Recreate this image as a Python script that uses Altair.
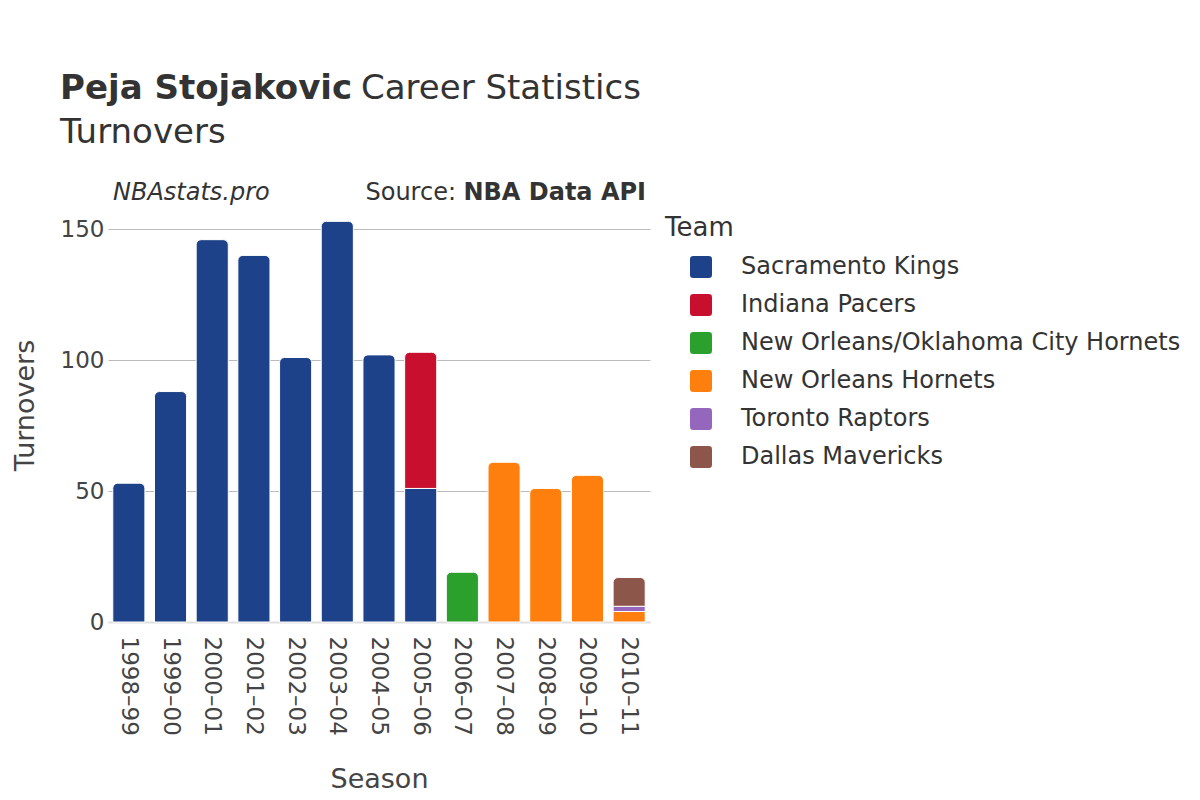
import altair as alt
import pandas as pd

seasons = ["1998–99", "1999–00", "2000–01", "2001–02", "2002–03", "2003–04",
           "2004–05", "2005–06", "2006–07", "2007–08", "2008–09", "2009–10", "2010–11"]
teams = ["Sacramento Kings", "Indiana Pacers", "New Orleans/Oklahoma City Hornets",
         "New Orleans Hornets", "Toronto Raptors", "Dallas Mavericks"]
team_colors = ["#1d428a", "#c8102e", "#2ca02c", "#ff7f0e", "#9467bd", "#8c564b"]

seg_season = ["1998–99", "1999–00", "2000–01", "2001–02", "2002–03", "2003–04",
              "2004–05", "2005–06", "2005–06", "2006–07", "2007–08", "2008–09",
              "2009–10", "2010–11", "2010–11", "2010–11"]
seg_team = ["Sacramento Kings"] * 8 + ["Indiana Pacers", "New Orleans/Oklahoma City Hornets",
            "New Orleans Hornets", "New Orleans Hornets", "New Orleans Hornets",
            "New Orleans Hornets", "Toronto Raptors", "Dallas Mavericks"]
seg_value = [53, 88, 146, 140, 101, 153, 102, 51, 52, 19, 61, 51, 56, 4, 2, 11]

df = pd.DataFrame({
    "season": seg_season,
    "team": seg_team,
    "value": seg_value,
    "order": [teams.index(t) for t in seg_team],
})

FONT = "DejaVu Sans"
TXT = "#333333"

base = alt.Chart(df).transform_stack(
    stack="value", groupby=["season"], as_=["y0", "y1"],
    sort=[alt.SortField("order", "ascending")]
).transform_joinaggregate(top="max(y1)", groupby=["season"])

enc = dict(
    x=alt.X("season:N", sort=seasons,
            scale=alt.Scale(domain=seasons, paddingInner=0.23, paddingOuter=0.115),
            axis=alt.Axis(title="Season", labelAngle=90, labelFontSize=23, labelColor="#444444",
                          labelFont=FONT, ticks=False, labelPadding=14,
                          domain=True, domainColor="#e0e0e0", domainWidth=2,
                          titleFontSize=27, titleFont=FONT, titleFontWeight="normal",
                          titleColor="#444444", titleX=271, titleY=165,
                          titleBaseline="alphabetic")),
    y=alt.Y("y0:Q", scale=alt.Scale(domain=[0, 160], nice=False),
            axis=alt.Axis(title="Turnovers", values=[0, 50, 100, 150], labelFontSize=23,
                          labelColor="#444444", labelFont=FONT, ticks=False, domain=False,
                          labelPadding=4, gridColor="#bbbbbb", gridWidth=1,
                          titleFontSize=27, titleFont=FONT, titleFontWeight="normal",
                          titleColor="#444444", titleX=-75, titleY=202, titleAngle=270,
                          titleBaseline="alphabetic")),
    y2="y1:Q",
    color=alt.Color("team:N", scale=alt.Scale(domain=teams, range=team_colors),
                    legend=alt.Legend(
                        title="Team", orient="none", legendX=557, legendY=12,
                        titleFontSize=26, titleFont=FONT, titleColor=TXT,
                        titleFontWeight="normal", titlePadding=14,
                        labelFontSize=24, labelFont=FONT, labelColor=TXT, labelLimit=0,
                        symbolType="M-0.7,-1H0.7Q1,-1 1,-0.7V0.7Q1,1 0.7,1H-0.7Q-1,1 -1,0.7V-0.7Q-1,-1 -0.7,-1Z",
                        symbolSize=484, symbolStrokeWidth=0, symbolOpacity=1,
                        symbolOffset=24, labelOffset=28, rowPadding=14)),
)

bars_flat = base.transform_filter("datum.y1 < datum.top").mark_bar(
    stroke="white", strokeWidth=1).encode(**enc)
bars_round = base.transform_filter("datum.y1 >= datum.top").mark_bar(
    stroke="white", strokeWidth=1, cornerRadiusTopLeft=5, cornerRadiusTopRight=5).encode(**enc)

one = pd.DataFrame({"k": [0]})


def txt(text, x, y, size, weight="normal", style="normal", align="left"):
    return alt.Chart(one).mark_text(
        text=text, font=FONT, fontSize=size, fontWeight=weight, fontStyle=style,
        align=align, baseline="alphabetic", color=TXT
    ).encode(x=alt.value(x), y=alt.value(y))


title1a = txt("Peja Stojakovic", -48, -104, 34, weight="bold")
title1b = txt("Career Statistics", 253, -104, 34)
title2 = txt("Turnovers", -48, -60, 34)
brand = txt("NBAstats.pro", 5, -3, 24, style="italic")
src_b = txt("NBA Data API", 538, -3, 24, weight="bold", align="right")
src_a = txt("Source:", 348, -3, 24, align="right")

chart = alt.layer(bars_flat, bars_round, title1a, title1b, title2, brand, src_a, src_b).properties(
    width=542, height=419,
    autosize=alt.AutoSizeParams(type="none"),
    padding={"left": 100, "top": 195, "right": 542, "bottom": 170},
    background="white",
).configure_view(stroke=None)

chart.save("out.html", embed_options={"renderer": "svg", "actions": False})
